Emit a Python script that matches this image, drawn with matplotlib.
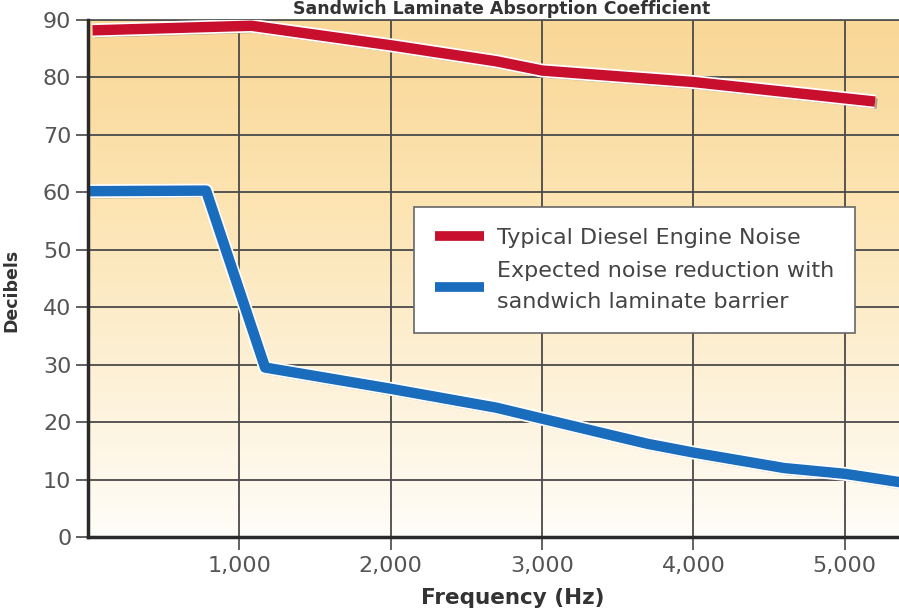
import numpy as np
import matplotlib
matplotlib.use("Agg")
import matplotlib.pyplot as plt
import matplotlib.patheffects as pe
from matplotlib.ticker import FuncFormatter
from matplotlib.colors import LinearSegmentedColormap

# Data
freq_diesel = [30, 1080, 2000, 2700, 3000, 4000, 5200]
db_diesel = [88.2, 89.0, 85.6, 82.8, 81.2, 79.2, 75.8]

freq_reduced = [0, 780, 1170, 2000, 2700, 3000, 3700, 4000, 4600, 5000, 5400]
db_reduced = [60.2, 60.3, 29.5, 25.8, 22.5, 20.6, 16.2, 14.7, 12.0, 11.0, 9.4]

x_ticks = [1000, 2000, 3000, 4000, 5000]
y_ticks = [0, 10, 20, 30, 40, 50, 60, 70, 80, 90]

label_diesel = "Typical Diesel Engine Noise"
label_reduced = "Expected noise reduction with\nsandwich laminate barrier"

W, H = 899, 610
fig = plt.figure(figsize=(W / 100, H / 100), dpi=100)
ax = fig.add_axes([88 / W, (H - 537) / H, 1.0 - 88 / W + 0.002, (537 - 20) / H])

xmax = 5370
ax.set_xlim(0, xmax)
ax.set_ylim(0, 90)

# gradient background
cmap = LinearSegmentedColormap.from_list("bg", ["#fffdf8", "#fdf0d4", "#fce3b0", "#f9d797"])
grad = np.linspace(0, 1, 256).reshape(-1, 1)
ax.imshow(grad, extent=[0, xmax, 0, 90], origin="lower", aspect="auto", cmap=cmap, zorder=0)

# grid
for xt in x_ticks:
    ax.axvline(xt, color="#4a4a4a", lw=1.3, zorder=1)
for yt in y_ticks[1:]:
    ax.axhline(yt, color="#4a4a4a", lw=1.3, zorder=1)

shadow = [pe.SimpleLineShadow(offset=(1.5, -1.5), shadow_color="#777777", alpha=0.6),
          pe.Stroke(linewidth=10, foreground="white"), pe.Normal()]

ax.plot(freq_diesel, db_diesel, color="#c8102e", lw=7.5, solid_capstyle="butt",
        solid_joinstyle="round", zorder=4, path_effects=shadow, label=label_diesel)
ax.plot(freq_reduced, db_reduced, color="#1a6cbd", lw=7.5, solid_capstyle="butt",
        solid_joinstyle="round", zorder=4, path_effects=shadow, label=label_reduced)

ax.spines["right"].set_visible(False)
ax.spines["top"].set_color("#555555")
ax.spines["top"].set_linewidth(1.3)
for s in ["left", "bottom"]:
    ax.spines[s].set_color("#2a2a2a")
    ax.spines[s].set_linewidth(2.5)
    ax.spines[s].set_zorder(5)

ax.set_xticks(x_ticks)
ax.set_yticks(y_ticks)
ax.xaxis.set_major_formatter(FuncFormatter(lambda v, p: f"{int(v):,}"))
ax.tick_params(axis="both", colors="#555555", labelcolor="#555555", labelsize=16,
               width=1.3, length=9)
ax.tick_params(axis="x", pad=5)
ax.tick_params(axis="y", pad=3)

leg = ax.legend(loc="upper left", bbox_to_anchor=((413 - 88) / 811, (537 - 207) / 517),
                borderaxespad=0.0,
                frameon=True, fancybox=False, fontsize=16, handlelength=2.2,
                handletextpad=0.6, borderpad=0.95, labelspacing=0.6,
                labelcolor="#444444", framealpha=1.0)
leg.get_frame().set_edgecolor("#666666")
leg.get_frame().set_linewidth(1.2)
leg.set_zorder(10)
for h in leg.get_lines():
    h.set_path_effects([])
    h.set_linewidth(7)
for t in leg.get_texts():
    t.set_linespacing(1.65)

fig.text(513 / W, 1 - 598 / H, "Frequency (Hz)", ha="center", va="center",
         fontsize=15.5, fontweight="bold", color="#333333")
fig.text(502 / W, 1.0, "Sandwich Laminate Absorption Coefficient", ha="center",
         va="top", fontsize=12.5, fontweight="bold", color="#333333")
fig.text(2 / W, 1 - 290 / H, "Decibels", ha="left", va="center", rotation=90,
         fontsize=12.5, fontweight="bold", color="#333333")

fig.savefig("out.png", dpi=100)
